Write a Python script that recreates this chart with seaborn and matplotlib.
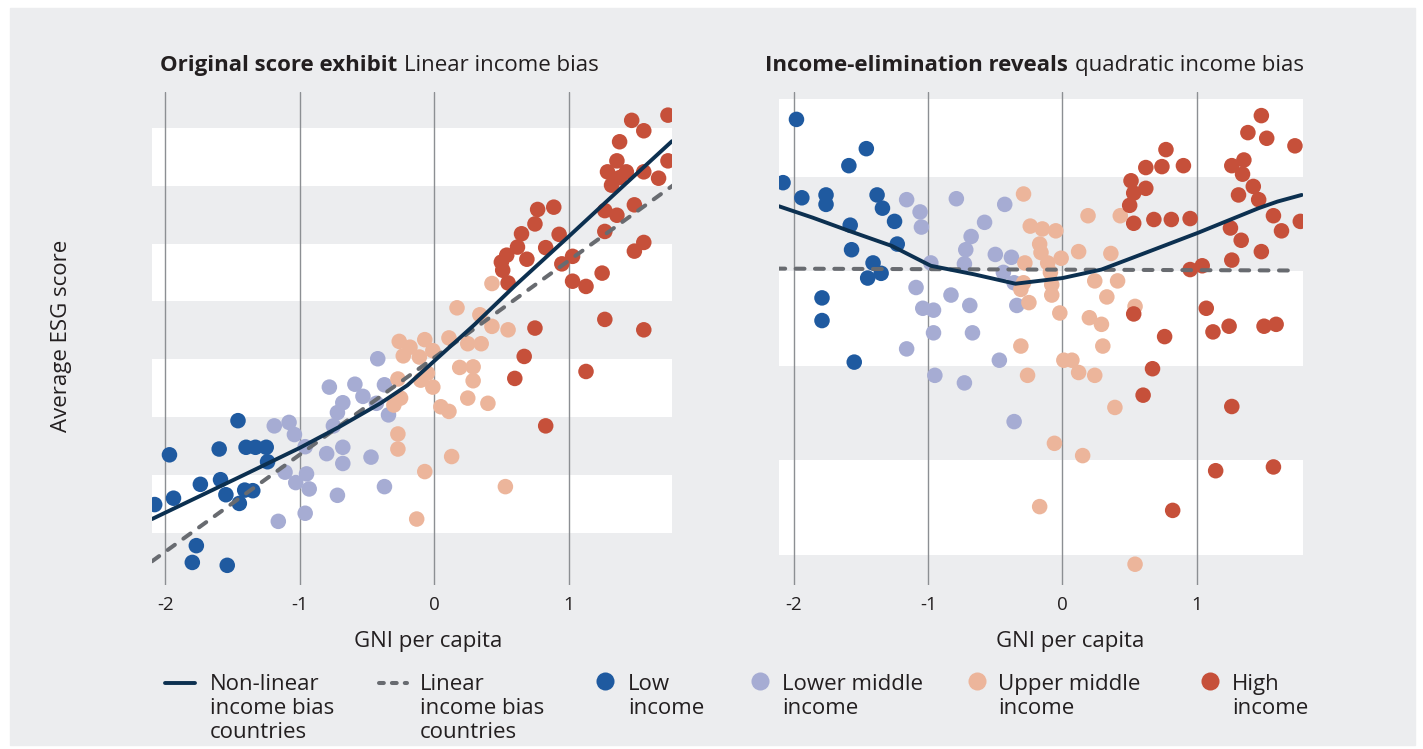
import numpy as np
import pandas as pd
import seaborn as sns
import matplotlib.pyplot as plt
from matplotlib.lines import Line2D
from matplotlib.patches import Rectangle

sns.set_style('white')
plt.rcParams['font.family'] = ['Open Sans', 'DejaVu Sans']
plt.rcParams['text.color'] = '#231f20'

# ---- data (GNI per capita, average ESG score in band units) ----
groups = ['Low income', 'Lower middle income', 'Upper middle income', 'High income']

# Original score panel
orig_low_x = [-1.46, -1.97, -1.60, -1.40, -1.33, -1.25, -1.24, -1.74, -1.59, -1.55, -1.41, -1.35, -1.45, -1.94, -2.08, -1.77, -1.80, -1.54]
orig_low_y = [1.94, 1.35, 1.45, 1.48, 1.48, 1.48, 1.23, 0.84, 0.92, 0.66, 0.74, 0.73, 0.51, 0.60, 0.49, -0.22, -0.51, -0.56]
orig_lmid_x = [-0.42, -0.37, -0.59, -0.78, -0.68, -0.53, -0.72, -0.43, -0.34, -0.75, -1.19, -1.08, -1.04, -0.96, -0.68, -0.80, -0.68, -0.47, -1.11, -0.95, -1.03, -0.93, -0.72, -0.37, -0.96, -1.16]
orig_lmid_y = [3.01, 2.56, 2.57, 2.52, 2.25, 2.36, 2.08, 2.24, 2.04, 1.85, 1.85, 1.91, 1.70, 1.49, 1.48, 1.37, 1.20, 1.31, 1.05, 1.02, 0.87, 0.76, 0.65, 0.80, 0.34, 0.20]
orig_umid_x = [0.43, 0.17, 0.34, 0.43, 0.55, 0.11, -0.26, -0.07, -0.18, -0.23, -0.01, 0.35, 0.25, -0.11, 0.19, 0.29, 0.29, -0.27, -0.10, -0.05, -0.01, -0.25, -0.30, 0.25, 0.40, 0.05, 0.11, -0.27, -0.27, 0.13, -0.07, 0.53, -0.13]
orig_umid_y = [4.31, 3.89, 3.77, 3.57, 3.51, 3.37, 3.31, 3.34, 3.21, 3.06, 3.15, 3.27, 3.27, 3.04, 2.86, 2.87, 2.63, 2.66, 2.64, 2.76, 2.52, 2.33, 2.21, 2.33, 2.24, 2.18, 2.10, 1.71, 1.45, 1.32, 1.06, 0.80, 0.24]
orig_high_x = [1.74, 1.47, 1.56, 1.38, 1.74, 1.36, 1.29, 1.43, 1.56, 1.67, 1.32, 1.38, 1.49, 1.27, 1.36, 1.27, 1.56, 1.49, 1.25, 1.03, 0.95, 1.03, 1.13, 0.89, 0.77, 0.75, 0.65, 0.93, 0.62, 0.83, 0.54, 0.69, 0.50, 0.51, 0.55, 1.27, 1.56, 0.75, 0.67, 0.60, 1.13, 0.83]
orig_high_y = [7.22, 7.13, 6.95, 6.76, 6.43, 6.43, 6.24, 6.24, 6.24, 6.13, 6.01, 6.14, 5.67, 5.57, 5.49, 5.21, 5.02, 4.87, 4.49, 4.78, 4.65, 4.35, 4.26, 5.63, 5.59, 5.34, 5.17, 5.16, 4.94, 4.93, 4.80, 4.73, 4.68, 4.54, 4.32, 3.69, 3.51, 3.54, 3.05, 2.67, 2.79, 1.85]
orig_fit_x = [-2.10, -1.75, -1.40, -1.00, -0.70, -0.40, -0.20, 0.00, 0.30, 0.60, 1.00, 1.40, 1.77]
orig_fit_y = [0.24, 0.63, 1.02, 1.47, 1.84, 2.24, 2.55, 2.97, 3.60, 4.27, 5.12, 5.98, 6.77]
orig_lin_x = [-2.10, 1.78]
orig_lin_y = [-0.49, 6.01]

# Income-elimination panel
elim_low_x = [-1.98, -2.08, -1.94, -1.76, -1.76, -1.59, -1.46, -1.38, -1.34, -1.25, -1.58, -1.57, -1.23, -1.41, -1.45, -1.35, -1.79, -1.79, -1.55]
elim_low_y = [4.61, 3.94, 3.78, 3.81, 3.71, 4.12, 4.30, 3.81, 3.67, 3.53, 3.49, 3.23, 3.29, 3.09, 2.93, 2.98, 2.72, 2.48, 2.04]
elim_lmid_x = [-1.16, -1.06, -1.05, -0.79, -0.43, -0.58, -0.68, -0.72, -0.73, -0.50, -0.38, -0.44, -0.36, -0.98, -1.09, -1.04, -0.96, -0.83, -0.69, -0.34, -0.96, -0.67, -1.16, -0.47, -0.95, -0.73, -0.36]
elim_lmid_y = [3.76, 3.63, 3.47, 3.77, 3.71, 3.52, 3.37, 3.23, 3.08, 3.18, 3.15, 2.99, 2.88, 3.09, 2.83, 2.61, 2.59, 2.75, 2.64, 2.64, 2.35, 2.35, 2.18, 2.06, 1.90, 1.82, 1.41]
elim_umid_x = [-0.29, -0.24, -0.15, -0.05, -0.17, -0.16, -0.11, -0.01, -0.28, 0.12, 0.19, 0.43, 0.36, -0.09, -0.29, -0.08, 0.24, 0.41, 0.33, -0.31, -0.25, -0.08, -0.02, 0.20, 0.29, 0.54, -0.31, 0.30, 0.01, 0.07, 0.12, 0.24, -0.26, 0.39, -0.06, 0.15, -0.17, 0.54]
elim_umid_y = [3.82, 3.48, 3.45, 3.43, 3.29, 3.20, 3.09, 3.14, 3.09, 3.21, 3.59, 3.59, 3.19, 2.99, 2.88, 2.86, 2.90, 2.90, 2.73, 2.81, 2.67, 2.75, 2.56, 2.51, 2.44, 2.63, 2.21, 2.21, 2.06, 2.06, 1.93, 1.90, 1.90, 1.56, 1.18, 1.05, 0.51, -0.10]
elim_high_x = [1.48, 1.38, 1.52, 1.73, 0.77, 0.62, 0.74, 0.90, 1.26, 1.35, 1.34, 0.51, 0.53, 0.62, 0.50, 1.42, 1.31, 1.46, 0.53, 0.68, 0.81, 0.95, 1.57, 1.77, 1.63, 1.25, 1.33, 1.48, 1.26, 0.95, 1.04, 1.07, 0.53, 1.24, 1.12, 1.50, 1.59, 0.76, 0.67, 0.60, 1.26, 1.14, 1.57, 0.82]
elim_high_y = [4.65, 4.47, 4.41, 4.33, 4.29, 4.10, 4.11, 4.12, 4.12, 4.18, 4.03, 3.96, 3.83, 3.88, 3.70, 3.90, 3.81, 3.76, 3.51, 3.55, 3.55, 3.56, 3.59, 3.53, 3.43, 3.46, 3.33, 3.21, 3.12, 3.02, 3.06, 2.61, 2.55, 2.42, 2.36, 2.42, 2.44, 2.31, 1.97, 1.69, 1.57, 0.89, 0.93, 0.47]
elim_fit_x = [-2.11, -1.86, -1.59, -1.27, -0.98, -0.66, -0.35, 0.00, 0.29, 0.66, 1.01, 1.20, 1.46, 1.60, 1.78]
elim_fit_y = [3.69, 3.57, 3.43, 3.27, 3.06, 2.97, 2.87, 2.93, 3.02, 3.22, 3.41, 3.52, 3.67, 3.74, 3.81]
elim_lin_x = [-2.13, 1.74]
elim_lin_y = [3.03, 3.01]

x_ticks = [-2, -1, 0, 1]
x_tick_labels = ['-2', '-1', '0', '1']

# colours
low_col = '#1f5aa0'
lmid_col = '#a6acd3'
umid_col = '#ecb59b'
high_col = '#c6503a'
fit_col = '#0c3050'
lin_col = '#686b70'
bg_col = '#ecedef'
palette = dict(zip(groups, [low_col, lmid_col, umid_col, high_col]))


def make_df(xs, ys):
    frames = []
    for g, x, y in zip(groups, xs, ys):
        frames.append(pd.DataFrame({'gni': x, 'esg': y, 'group': g}))
    return pd.concat(frames, ignore_index=True)


orig_df = make_df([orig_low_x, orig_lmid_x, orig_umid_x, orig_high_x],
                  [orig_low_y, orig_lmid_y, orig_umid_y, orig_high_y])
elim_df = make_df([elim_low_x, elim_lmid_x, elim_umid_x, elim_high_x],
                  [elim_low_y, elim_lmid_y, elim_umid_y, elim_high_y])

W, H = 1423, 749
fig = plt.figure(figsize=(W / 100, H / 100), dpi=100)
fig.patch.set_facecolor('white')
fig.add_artist(Rectangle((10 / W, 1 - 745 / H), 1405 / W, 737 / H,
                         transform=fig.transFigure, color=bg_col, zorder=-10))

ax1 = fig.add_axes([152 / W, 1 - 585 / H, 520 / W, 493 / H])
ax2 = fig.add_axes([779 / W, 1 - 585 / H, 524 / W, 493 / H])


def draw_panel(ax, df, fit_x, fit_y, lin_x, lin_y, bands, xlim, ylim):
    ax.set_facecolor(bg_col)
    for lo, hi in bands:
        ax.axhspan(lo, hi, color='white', lw=0, zorder=0)
    for t in x_ticks:
        ax.axvline(t, color='#8c8f93', lw=1.0, zorder=1)
    sns.scatterplot(data=df, x='gni', y='esg', hue='group', palette=palette,
                    s=125, linewidth=0, legend=False, ax=ax, zorder=2)
    sns.lineplot(x=lin_x, y=lin_y, color=lin_col, lw=2.9, linestyle=(0, (2.2, 2.6)),
                 dash_capstyle='round', ax=ax, zorder=3)
    sns.lineplot(x=fit_x, y=fit_y, color=fit_col, lw=2.8, ax=ax, zorder=4)
    ax.set_xlim(*xlim)
    ax.set_ylim(*ylim)
    ax.set_xticks(x_ticks)
    ax.set_xticklabels(x_tick_labels)
    ax.set_yticks([])
    ax.tick_params(axis='x', length=0, pad=8, labelsize=13.5, labelcolor='#231f20')
    ax.set_xlabel('')
    ax.set_ylabel('')
    for s in ax.spines.values():
        s.set_visible(False)


draw_panel(ax1, orig_df, orig_fit_x, orig_fit_y, orig_lin_x, orig_lin_y,
           [(0, 1), (2, 3), (4, 5), (6, 7)], (-2.10, 1.77), (-0.90, 7.62))
draw_panel(ax2, elim_df, elim_fit_x, elim_fit_y, elim_lin_x, elim_lin_y,
           [(0, 1), (2, 3), (4, 4.83)], (-2.11, 1.79), (-0.32, 4.90))


def px(x, y):
    return x / W, 1 - y / H


# titles: bold lead-in followed by regular text
fig.canvas.draw()
renderer = fig.canvas.get_renderer()
for x0, bold, rest in [(160, 'Original score exhibit', 'Linear income bias'),
                       (765, 'Income-elimination reveals', 'quadratic income bias')]:
    t = fig.text(*px(x0, 71), bold, fontsize=16, fontweight='bold', va='baseline')
    bb = t.get_window_extent(renderer=renderer)
    fig.text(*px(bb.x1 + 7, 71), rest, fontsize=16, va='baseline')

fig.text(*px(62, 336), 'Average ESG score', fontsize=16, rotation=90, ha='center', va='center')
fig.text(*px(428, 647), 'GNI per capita', fontsize=16, ha='center', va='baseline')
fig.text(*px(1070, 647), 'GNI per capita', fontsize=16, ha='center', va='baseline')

# legend
fig.add_artist(Line2D([165 / W, 195 / W], [1 - 683 / H] * 2, color=fit_col, lw=2.8,
                      transform=fig.transFigure))
fig.add_artist(Line2D([379 / W, 407 / W], [1 - 683 / H] * 2, color=lin_col, lw=2.9,
                      linestyle=(0, (1.2, 2.0)), dash_capstyle='round', transform=fig.transFigure))
leg_texts = [(210, ['Non-linear', 'income bias', 'countries']),
             (420, ['Linear', 'income bias', 'countries'])]
leg_items = [(605, 628, ['Low', 'income'], low_col),
             (760, 782, ['Lower middle', 'income'], lmid_col),
             (977, 998, ['Upper middle', 'income'], umid_col),
             (1210, 1232, ['High', 'income'], high_col)]
for dx, tx, lines, col in leg_items:
    fig.add_artist(Line2D([dx / W], [1 - 681 / H], marker='o', markersize=13, color=col,
                          markeredgewidth=0, linestyle='none', transform=fig.transFigure))
    leg_texts.append((tx, lines))
for tx, lines in leg_texts:
    for i, line in enumerate(lines):
        fig.text(*px(tx, 690 + 24 * i), line, fontsize=16, va='baseline')

fig.savefig('out.png', dpi=100)
